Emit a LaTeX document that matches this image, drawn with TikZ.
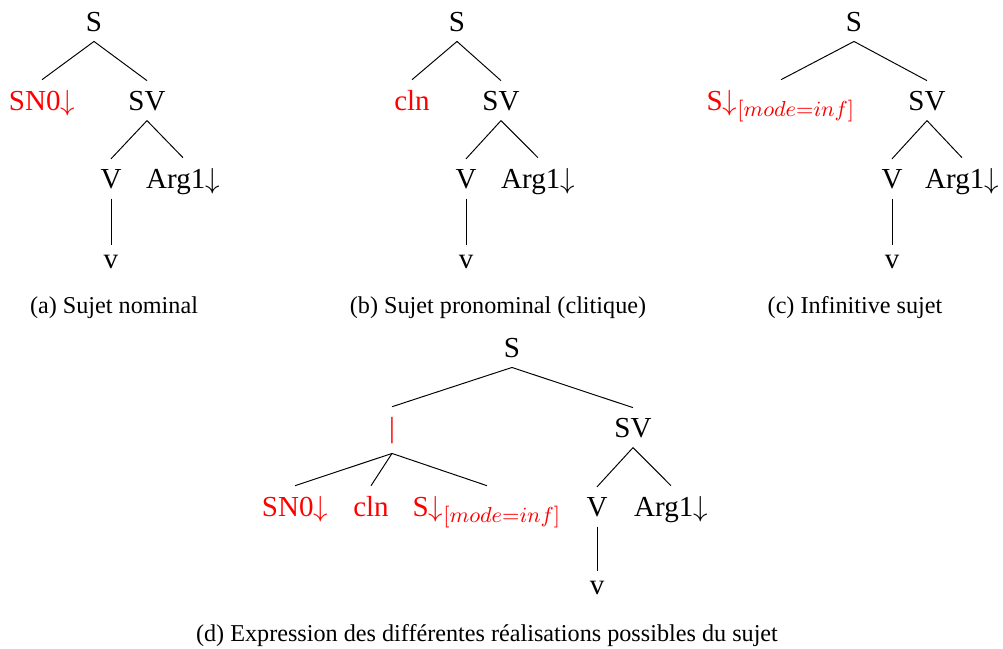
\documentclass[12pt,tikz,border=0pt]{standalone}
\usepackage{fontspec}
\setmainfont{Liberation Serif}
\DeclareMathSizes{12}{12}{9}{7}
\begin{document}
\begin{tikzpicture}[x=0.4135pt, y=-0.4135pt,
    cat/.style={anchor=base},
    subj/.style={anchor=base, text=red},
    capt/.style={anchor=base, font=\fontsize{10}{12}\selectfont}]
    \useasboundingbox (0,0) rectangle (1003,648);
    \node[cat] (aS) at (94,31) {S};
    \node[subj] (aSN) at (42,110) {SN0$\downarrow$};
    \node[cat] (aSV) at (147,110) {SV};
    \node[cat] (aV) at (111,188) {V};
    \node[cat] (aArg) at (183,188) {Arg1$\downarrow$};
    \node[cat] (av) at (111,268) {v};
    \draw (aS.south) -- (aSN.north);
    \draw (aS.south) -- (aSV.north);
    \draw (aSV.south) -- (aV.north);
    \draw (aSV.south) -- (aArg.north);
    \draw (aV.south) -- (av.north);
    \node[capt] (acap) at (114,313) {(a) Sujet nominal};
    \node[cat] (bS) at (457,31) {S};
    \node[subj] (bcln) at (412,110) {cln};
    \node[cat] (bSV) at (501,110) {SV};
    \node[cat] (bV) at (466,188) {V};
    \node[cat] (bArg) at (538,188) {Arg1$\downarrow$};
    \node[cat] (bv) at (466,268) {v};
    \draw (bS.south) -- (bcln.north);
    \draw (bS.south) -- (bSV.north);
    \draw (bSV.south) -- (bV.north);
    \draw (bSV.south) -- (bArg.north);
    \draw (bV.south) -- (bv.north);
    \node[capt] (bcap) at (498,313) {(b) Sujet pronominal (clitique)};
    \node[cat] (cS) at (854,31) {S};
    \node[subj] (cinf) at (781,110) {S$\downarrow_{[mode=inf]}$};
    \node[cat] (cSV) at (927,110) {SV};
    \node[cat] (cV) at (892,188) {V};
    \node[cat] (cArg) at (962,188) {Arg1$\downarrow$};
    \node[cat] (cv) at (892,268) {v};
    \draw (cS.south) -- (cinf.north);
    \draw (cS.south) -- (cSV.north);
    \draw (cSV.south) -- (cV.north);
    \draw (cSV.south) -- (cArg.north);
    \draw (cV.south) -- (cv.north);
    \node[capt] (ccap) at (855,313) {(c) Infinitive sujet};
    \node[cat] (dS) at (512,357) {S};
    \node[subj] (dor) at (392,437) {|};
    \node[cat] (dSV) at (633,437) {SV};
    \node[subj] (dSN) at (295,516) {SN0$\downarrow$};
    \node[subj] (dcln) at (371,516) {cln};
    \node[subj] (dinf) at (487,516) {S$\downarrow_{[mode=inf]}$};
    \node[cat] (dV) at (597,516) {V};
    \node[cat] (dArg) at (671,516) {Arg1$\downarrow$};
    \node[cat] (dv) at (597,594) {v};
    \draw (dS.south) -- (dor.north);
    \draw (dS.south) -- (dSV.north);
    \draw (dor.south) -- (dSN.north);
    \draw (dor.south) -- (dcln.north);
    \draw (dor.south) -- (dinf.north);
    \draw (dSV.south) -- (dV.north);
    \draw (dSV.south) -- (dArg.north);
    \draw (dV.south) -- (dv.north);
    \node[capt] (dcap) at (487,641) {(d) Expression des différentes réalisations possibles du sujet};
\end{tikzpicture}
\end{document}
